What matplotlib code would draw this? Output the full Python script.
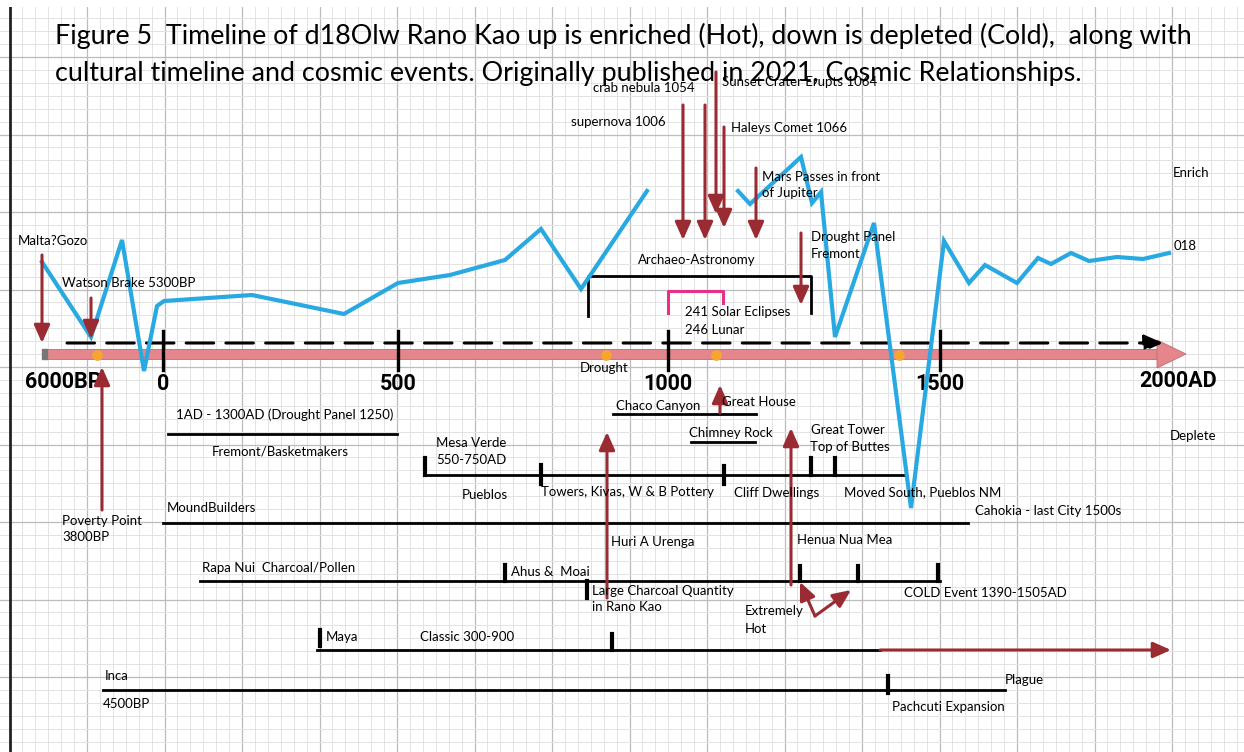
import matplotlib.pyplot as plt
import numpy as np

# ---- data (diagram coordinates, px from top-left of the sheet) ----
# d18O lw curve, Rano Kao (two pieces)
curve1_x = [42, 91, 122, 144, 157, 164, 252, 344, 398, 450, 505, 541, 581, 647]
curve1_y = [262, 337, 240, 371, 306, 301, 295, 314, 283, 275, 260, 229, 289, 191]
curve2_x = [738, 750, 801, 812, 821, 835, 874, 911, 944, 969, 985, 1017, 1038, 1051, 1071, 1089, 1117, 1143, 1169]
curve2_y = [191, 204, 157, 203, 192, 337, 223, 508, 241, 283, 265, 283, 258, 264, 253, 261, 257, 259, 253]

# main time axis
axis_ticks_x = [163, 398, 668, 940]
axis_tick_labels = ["0", "500", "1000", "1500"]
event_dots_x = [97, 606, 716, 899]

# cosmic / climate event arrows: x, start y, end y
event_arrows = [
    (42, 255, 343),    # Malta?Gozo
    (91, 298, 339),    # Watson Brake
    (102, 510, 367),   # Poverty Point
    (683, 105, 240),   # supernova 1006
    (705, 105, 240),   # crab nebula 1054
    (716, 72, 214),    # Sunset Crater
    (724, 127, 228),   # Haleys Comet
    (756, 168, 240),   # Mars / Jupiter
    (801, 233, 305),   # Drought Panel Fremont
    (720, 413, 385),   # Great House
    (607, 598, 432),   # Huri A Urenga
    (791, 585, 428),   # Henua Nua Mea
]

# cultural timelines: x start, x end, y
timelines = [
    (168, 397, 434),   # Fremont/Basketmakers
    (613, 756, 414),   # Chaco Canyon
    (691, 755, 442),   # Chimney Rock
    (425, 905, 475),   # Pueblos
    (163, 968, 523),   # MoundBuilders
    (200, 940, 581),   # Rapa Nui
    (317, 880, 650),   # Maya
    (103, 1005, 690),  # Inca
]
# tick marks: x, y top, y bottom
timeline_ticks = [
    (425, 458, 475), (541, 465, 484), (724, 466, 484), (811, 458, 475), (835, 458, 475),
    (505, 565, 581), (587, 581, 598), (800, 566, 581), (858, 566, 581), (938, 565, 581),
    (320, 630, 646), (612, 634, 650), (888, 676, 693),
]

labels = [
    ("Malta?Gozo", 18, 241), ("Watson Brake 5300BP", 62, 283),
    ("Poverty Point", 62, 521), ("3800BP", 62, 537),
    ("crab nebula 1054", 593, 88), ("supernova 1006", 571, 122),
    ("Sunset Crater Erupts 1064", 722, 82), ("Haleys Comet 1066", 731, 128),
    ("Mars Passes in front", 762, 177), ("of Jupiter", 762, 193),
    ("Drought Panel", 811, 237), ("Fremont", 811, 254),
    ("Archaeo-Astronomy", 638, 260),
    ("241 Solar Eclipses", 685, 312), ("246 Lunar", 685, 330),
    ("Enrich", 1173, 173), ("018", 1174, 246), ("Deplete", 1170, 436),
    ("Drought", 580, 368),
    ("Chaco Canyon", 616, 406), ("Great House", 722, 402), ("Chimney Rock", 689, 433),
    ("1AD - 1300AD (Drought Panel 1250)", 176, 415), ("Fremont/Basketmakers", 212, 451),
    ("Mesa Verde", 436, 443), ("550-750AD", 436, 460),
    ("Pueblos", 462, 495), ("Towers, Kivas, W & B Pottery", 541, 492),
    ("Cliff Dwellings", 734, 493), ("Great Tower", 811, 430), ("Top of Buttes", 810, 447),
    ("Moved South, Pueblos NM", 844, 492),
    ("MoundBuilders", 167, 508), ("Cahokia - last City 1500s", 975, 511),
    ("Huri A Urenga", 611, 542), ("Henua Nua Mea", 797, 540),
    ("Rapa Nui  Charcoal/Pollen", 202, 568), ("Ahus &  Moai", 511, 572),
    ("Large Charcoal Quantity", 592, 591), ("in Rano Kao", 592, 607),
    ("Extremely", 745, 611), ("Hot", 745, 629),
    ("COLD Event 1390-1505AD", 904, 593),
    ("Maya", 326, 637), ("Classic 300-900", 420, 637),
    ("Inca", 105, 676), ("4500BP", 103, 704),
    ("Plague", 1005, 680), ("Pachcuti Expansion", 892, 707),
]

title_lines = [
    "Figure 5  Timeline of d18Olw Rano Kao up is enriched (Hot), down is depleted (Cold),  along with",
    "cultural timeline and cosmic events. Originally published in 2021, Cosmic Relationships.",
]

RED = "#9b2b33"
BLUE = "#29a9e1"
PINK = "#e4868c"
small_font = ["Lato", "DejaVu Sans"]
bold_font = ["Roboto", "DejaVu Sans"]

fig = plt.figure(figsize=(12.44, 7.52), dpi=100)
ax = fig.add_axes([0, 0, 1, 745 / 752])

# graph paper
ax.set_xticks(np.arange(9.5, 1244, 77.5))
ax.set_xticks(np.arange(9.5 - 77.5, 1244, 77.5 / 6), minor=True)
ax.set_yticks(np.arange(57, 752, 77.5))
ax.set_yticks(np.arange(57 - 77.5, 752, 77.5 / 6), minor=True)
ax.grid(which="minor", color="#e3e3e3", lw=0.7)
ax.grid(which="major", color="#bcbcbc", lw=0.9)
ax.tick_params(which="both", length=0, labelbottom=False, labelleft=False)
for s in ax.spines.values():
    s.set_visible(False)
ax.axvline(9.5, color="#222222", lw=2)

# main axis: pink arrow bar
ax.fill_between([42, 1158], 349, 359, color=PINK, ec="#c06a70", lw=0.6, zorder=3)
ax.fill_between([42, 47], 349, 359, color="#777777", zorder=3)
ax.fill([1157, 1157, 1186], [340, 368, 354], color=PINK, ec="#c06a70", lw=0.6, zorder=3)
ax.annotate("", xy=(1163, 343), xytext=(67, 343),
            arrowprops=dict(arrowstyle="-|>,head_length=0.8,head_width=0.35", color="black",
                            lw=2.2, ls=(0, (9, 4)), mutation_scale=14, shrinkA=0, shrinkB=0), zorder=4)
for x in axis_ticks_x:
    ax.plot([x, x], [331, 370], color="black", lw=2.4, zorder=5)
ax.scatter(event_dots_x, [355] * len(event_dots_x), s=60, color="#f6a531", zorder=6, lw=0)

for x, lab in zip(axis_ticks_x, axis_tick_labels):
    ax.text(x, 384, lab, ha="center", va="center", fontsize=15.5, fontweight="bold", family=bold_font)
ax.text(63, 382, "6000BP", ha="center", va="center", fontsize=15.5, fontweight="bold", family=bold_font)
ax.text(1178, 381, "2000AD", ha="center", va="center", fontsize=15.5, fontweight="bold", family=bold_font)

# d18O curve
ax.plot(curve1_x, curve1_y, color=BLUE, lw=3, solid_joinstyle="miter", zorder=7)
ax.plot(curve2_x, curve2_y, color=BLUE, lw=3, solid_joinstyle="miter", zorder=7)

# brackets
ax.plot([588, 588, 811, 811], [316, 276, 276, 313], color="black", lw=2, zorder=4)
ax.plot([668, 668, 723, 723], [313, 291, 291, 303], color="#e6318a", lw=2.2, zorder=4)

# cultural timelines
for x0, x1, y in timelines:
    ax.plot([x0, x1], [y, y], color="black", lw=2, zorder=4)
for x, y0, y1 in timeline_ticks:
    ax.plot([x, x], [y0, y1], color="black", lw=3, zorder=4)

# red arrows
arrow_style = dict(arrowstyle="-|>,head_length=0.9,head_width=0.4", color=RED, lw=2.2,
                   mutation_scale=12, shrinkA=0, shrinkB=0)
for x, y0, y1 in event_arrows:
    ax.annotate("", xy=(x, y1), xytext=(x, y0), arrowprops=arrow_style, zorder=8)
ax.annotate("", xy=(800, 582), xytext=(815, 616), arrowprops=arrow_style, zorder=8)
ax.annotate("", xy=(851, 590), xytext=(815, 616), arrowprops=arrow_style, zorder=8)
ax.annotate("", xy=(1171, 650), xytext=(880, 650), arrowprops=arrow_style, zorder=8)

for txt, x, y in labels:
    ax.text(x, y, txt, ha="left", va="center", fontsize=9.5, family=small_font, zorder=9)

for i, line in enumerate(title_lines):
    ax.text(55, 36 + i * 38, line, ha="left", va="center", fontsize=19.4,
            family=["Lato", "DejaVu Sans"], zorder=10)

# limits last: set_xticks would widen them
ax.set_xlim(0, 1244)
ax.set_ylim(752, 7)

fig.savefig("out.png", dpi=100)
